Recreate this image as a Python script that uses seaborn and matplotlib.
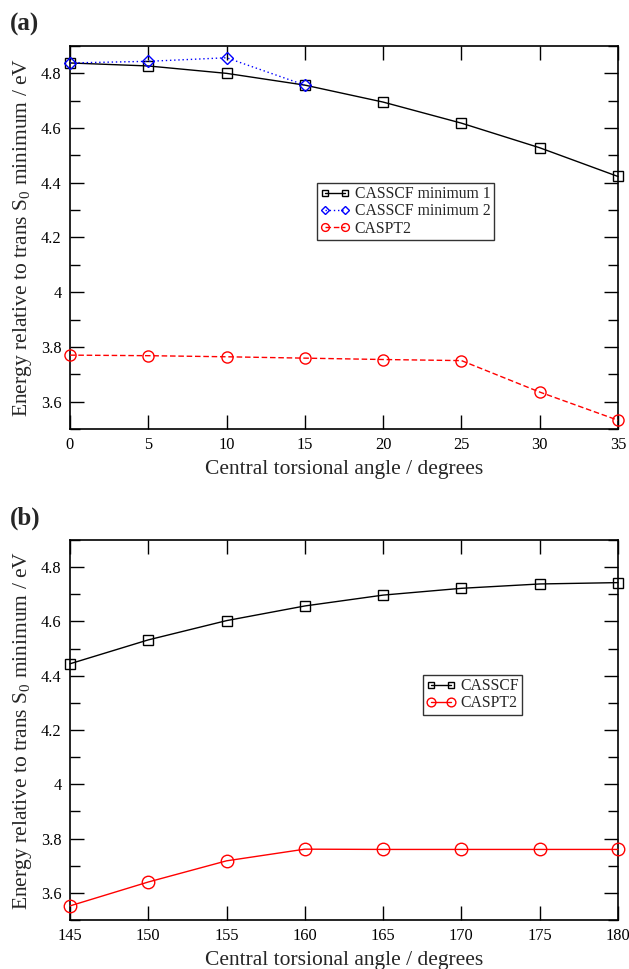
import matplotlib
matplotlib.use("Agg")
import matplotlib.pyplot as plt
import seaborn as sns
import pandas as pd
from matplotlib.ticker import MultipleLocator

# ---- data panel (a)
angle_a = [0, 5, 10, 15, 20, 25, 30, 35]
casscf_min1 = [4.838, 4.827, 4.800, 4.757, 4.695, 4.618, 4.528, 4.423]
angle_min2 = [0, 5, 10, 15]
casscf_min2 = [4.838, 4.844, 4.857, 4.757]
caspt2_a = [3.770, 3.768, 3.764, 3.759, 3.754, 3.750, 3.635, 3.532]

# ---- data panel (b)
angle_b = [145, 150, 155, 160, 165, 170, 175, 180]
casscf_b = [4.444, 4.532, 4.603, 4.657, 4.697, 4.722, 4.738, 4.743]
caspt2_b = [3.552, 3.640, 3.718, 3.761, 3.760, 3.760, 3.760, 3.760]

xticks_a = [0, 5, 10, 15, 20, 25, 30, 35]
xticks_b = [145, 150, 155, 160, 165, 170, 175, 180]
yticks = [3.6, 3.8, 4.0, 4.2, 4.4, 4.6, 4.8]
ytick_labels = ["3.6", "3.8", "4", "4.2", "4.4", "4.6", "4.8"]

sns.set_theme(style="ticks")
plt.rcParams["font.family"] = ["Liberation Serif", "DejaVu Serif"]
plt.rcParams["mathtext.fontset"] = "custom"
plt.rcParams["mathtext.rm"] = "Liberation Serif"
plt.rcParams["mathtext.it"] = "Liberation Serif"

fig = plt.figure(figsize=(6.29, 9.69), dpi=100)
ax_a = fig.add_axes([70/629, 1-429/969, 548/629, 383/969])
ax_b = fig.add_axes([70/629, 1-920/969, 548/629, 380/969])

df_a1 = pd.DataFrame({"x": angle_a, "y": casscf_min1})
df_a2 = pd.DataFrame({"x": angle_min2, "y": casscf_min2})
df_a3 = pd.DataFrame({"x": angle_a, "y": caspt2_a})
df_b1 = pd.DataFrame({"x": angle_b, "y": casscf_b})
df_b2 = pd.DataFrame({"x": angle_b, "y": caspt2_b})

common = dict(lw=1.0, mew=1.0, mfc="none", clip_on=False)
sns.lineplot(data=df_a1, x="x", y="y", ax=ax_a, color="black",
             marker="s", ms=7, mec="black", label="CASSCF minimum 1", **common)
sns.lineplot(data=df_a2, x="x", y="y", ax=ax_a, color="blue",
             linestyle=(0, (1, 2)),
             marker="D", ms=6, mec="blue", label="CASSCF minimum 2", **common)
sns.lineplot(data=df_a3, x="x", y="y", ax=ax_a, color="red",
             linestyle=(0, (4, 2)),
             marker="o", ms=8, mec="red", label="CASPT2", **common)

sns.lineplot(data=df_b1, x="x", y="y", ax=ax_b, color="black",
             marker="s", ms=7, mec="black", label="CASSCF", **common)
sns.lineplot(data=df_b2, x="x", y="y", ax=ax_b, color="red",
             marker="o", ms=9, mec="red", label="CASPT2", **common)

ylab = "Energy relative to trans S$_0$ minimum / eV"
for ax, xt, xlim in [(ax_a, xticks_a, (0, 35)), (ax_b, xticks_b, (145, 180))]:
    ax.set_xlim(*xlim)
    ax.set_ylim(3.5, 4.9)
    ax.set_xticks(xt)
    ax.set_xticklabels([str(v) for v in xt])
    ax.set_yticks(yticks)
    ax.set_yticklabels(ytick_labels)
    ax.yaxis.set_minor_locator(MultipleLocator(0.1))
    ax.tick_params(which="both", direction="in", top=True, right=True,
                   labelsize=11.8, colors="black", width=1.0)
    ax.tick_params(which="major", length=10, pad=6)
    ax.tick_params(which="minor", length=7)
    for s in ax.spines.values():
        s.set_visible(True)
        s.set_linewidth(1.2)
        s.set_color("black")
    ax.set_xlabel("Central torsional angle / degrees", fontsize=15.5, labelpad=5)
    ax.set_ylabel(ylab, fontsize=15.5, labelpad=5)
    for line in ax.get_lines():
        line.set_zorder(5)

leg_kw = dict(fontsize=11.3, frameon=True, fancybox=False, numpoints=2,
              handlelength=1.9, handletextpad=0.3, borderpad=0.2,
              labelspacing=0.08, borderaxespad=0, markerscale=0.7)
leg_a = ax_a.legend(loc="upper left", bbox_to_anchor=((317-70)/548, 1-(183-46)/383), **leg_kw)
leg_b = ax_b.legend(loc="upper left", bbox_to_anchor=((423-70)/548, 1-(675-540)/380), **leg_kw)
for leg in (leg_a, leg_b):
    leg.get_frame().set_edgecolor("black")
    leg.get_frame().set_linewidth(1.0)

fig.text(10/629, 1-24/969, "(a)", fontsize=18, fontweight="bold", va="center", ha="left")
fig.text(10/629, 1-518/969, "(b)", fontsize=18, fontweight="bold", va="center", ha="left")

fig.savefig("out.png", dpi=100)
